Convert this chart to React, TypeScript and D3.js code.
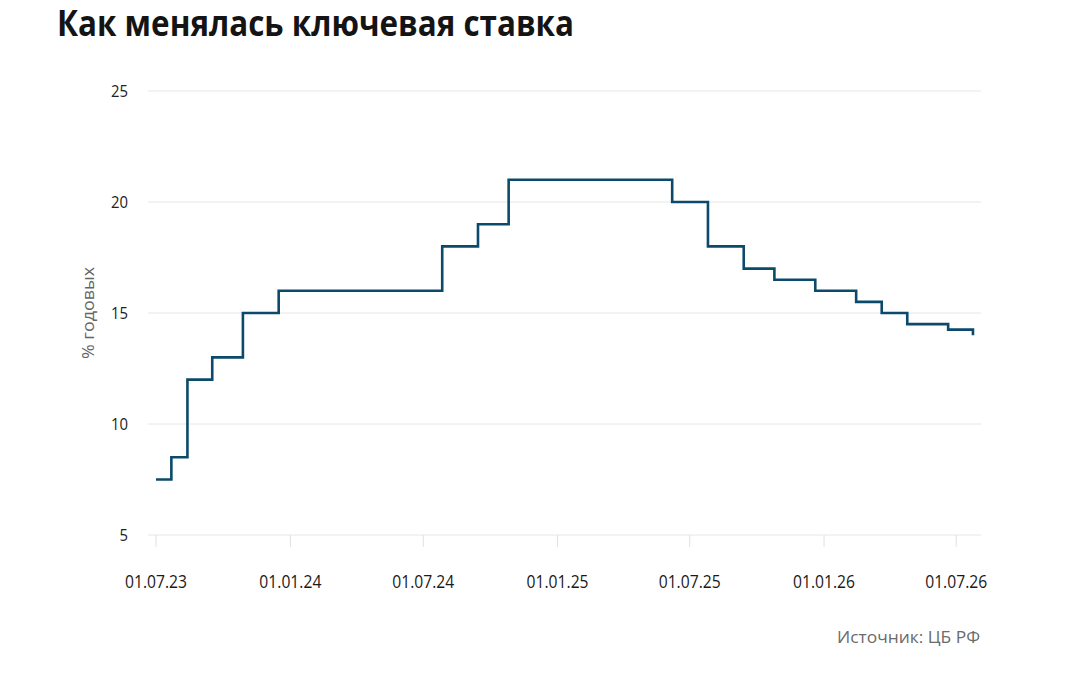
import * as d3 from "d3";

// даты изменения ключевой ставки и её значения, % годовых
const rateDates = [
  "2023-07-01", "2023-07-22", "2023-08-13", "2023-09-16", "2023-10-28",
  "2023-12-16", "2024-07-27", "2024-09-14", "2024-10-26", "2025-06-07",
  "2025-07-26", "2025-09-13", "2025-10-25", "2025-12-20", "2026-02-14",
  "2026-03-21", "2026-04-25", "2026-06-20", "2026-07-24",
];
const rateValues = [
  7.5, 8.5, 12, 13, 15, 16, 18, 19, 21, 20, 18, 17, 16.5, 16, 15.5, 15, 14.5,
  14.25, 14,
];
const xTickDates = [
  "2023-07-01", "2024-01-01", "2024-07-01", "2025-01-01", "2025-07-01",
  "2026-01-01", "2026-07-01",
];
const xTickLabels = [
  "01.07.23", "01.01.24", "01.07.24", "01.01.25", "01.07.25", "01.01.26",
  "01.07.26",
];
const yTicks = [5, 10, 15, 20, 25];
const xDomain = ["2023-06-20", "2026-08-04"];
const yDomain = [5, 25];

const W = 1084;
const H = 680;
const plot = { left: 148, right: 981, top: 91, bottom: 535 };
const font = "'Open Sans', 'DejaVu Sans', sans-serif";
const lineColor = "#0c4a6b";

export default function App() {
  const parse = d3.utcParse("%Y-%m-%d");
  const x = d3
    .scaleUtc()
    .domain(xDomain.map((d) => parse(d)!))
    .range([plot.left, plot.right]);
  const y = d3.scaleLinear().domain(yDomain).range([plot.bottom, plot.top]);

  const points = rateDates.map((d, i) => ({ date: parse(d)!, value: rateValues[i] }));
  const line = d3
    .line<{ date: Date; value: number }>()
    .x((d) => x(d.date))
    .y((d) => y(d.value))
    .curve(d3.curveStepAfter);

  return (
    <svg
      width={W}
      height={H}
      style={{ position: "absolute", left: 0, top: 0, background: "#fff" }}
      fontFamily={font}
    >
      <text
        x={57}
        y={36}
        fontSize={35}
        fontWeight={700}
        fill="#141414"
        textLength={517}
        lengthAdjust="spacingAndGlyphs"
      >
        Как менялась ключевая ставка
      </text>

      {/* сетка и подписи оси Y */}
      {yTicks.map((t) => (
        <g key={t}>
          <line
            x1={plot.left}
            x2={plot.right}
            y1={y(t)}
            y2={y(t)}
            stroke="#e6e6e6"
            strokeWidth={1}
          />
          <text
            x={128}
            y={y(t)}
            dy="0.36em"
            textAnchor="end"
            fontSize={15.5}
            fill="#222"
            textLength={t < 10 ? 8.5 : 17}
            lengthAdjust="spacingAndGlyphs"
          >
            {t}
          </text>
        </g>
      ))}

      <text
        transform={`translate(94,${(plot.top + plot.bottom) / 2}) rotate(-90)`}
        textAnchor="middle"
        fontSize={17}
        fill="#666"
        textLength={92}
        lengthAdjust="spacingAndGlyphs"
      >
        % годовых
      </text>

      {/* ось X */}
      {xTickDates.map((d, i) => {
        const px = x(parse(d)!);
        return (
          <g key={d}>
            <line
              x1={px}
              x2={px}
              y1={plot.bottom}
              y2={plot.bottom + 12}
              stroke="#e0e0e0"
              strokeWidth={1}
            />
            <text
              x={px}
              y={588}
              textAnchor="middle"
              fontSize={18}
              fill="#1a1a1a"
              textLength={62}
              lengthAdjust="spacingAndGlyphs"
            >
              {xTickLabels[i]}
            </text>
          </g>
        );
      })}

      <path
        d={line(points) ?? ""}
        fill="none"
        stroke={lineColor}
        strokeWidth={2.6}
        strokeLinejoin="miter"
      />

      <text
        x={980}
        y={643}
        textAnchor="end"
        fontSize={17}
        fill="#6b6b6b"
        textLength={143}
        lengthAdjust="spacingAndGlyphs"
      >
        Источник: ЦБ РФ
      </text>
    </svg>
  );
}
